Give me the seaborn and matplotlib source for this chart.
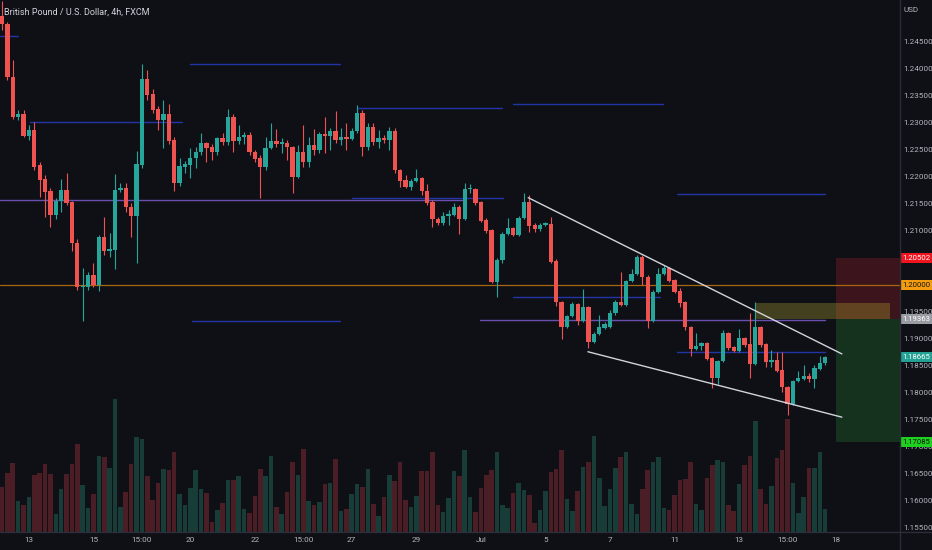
import numpy as np
import pandas as pd
import matplotlib
matplotlib.use("Agg")
import matplotlib.pyplot as plt
import matplotlib.transforms as mtransforms
from matplotlib.lines import Line2D
from matplotlib import font_manager
import seaborn as sns

# GBP/USD 4h candles
opens = [1.2497, 1.2482, 1.2384, 1.2310, 1.2316, 1.2275, 1.2286, 1.2221, 1.2196, 1.2173,
         1.2129, 1.2155, 1.2175, 1.2153, 1.2077, 1.1996, 1.1996, 1.2018, 1.2000, 1.2088,
         1.2062, 1.2064, 1.2175, 1.2179, 1.2144, 1.2127, 1.2221, 1.2381, 1.2353, 1.2325,
         1.2305, 1.2316, 1.2268, 1.2188, 1.2218, 1.2221, 1.2234, 1.2245, 1.2262, 1.2255,
         1.2245, 1.2271, 1.2264, 1.2310, 1.2266, 1.2273, 1.2277, 1.2245, 1.2234, 1.2218,
         1.2253, 1.2266, 1.2260, 1.2262, 1.2255, 1.2199, 1.2245, 1.2227, 1.2258, 1.2249,
         1.2279, 1.2275, 1.2285, 1.2268, 1.2273, 1.2269, 1.2285, 1.2318, 1.2255, 1.2292,
         1.2264, 1.2271, 1.2268, 1.2285, 1.2212, 1.2194, 1.2181, 1.2192, 1.2197, 1.2173,
         1.2153, 1.2121, 1.2114, 1.2127, 1.2129, 1.2144, 1.2121, 1.2177, 1.2177, 1.2153,
         1.2120, 1.2101, 1.2005, 1.2046, 1.2094, 1.2105, 1.2092, 1.2123, 1.2153, 1.2110,
         1.2103, 1.2110, 1.2112, 1.2044, 1.1968, 1.1922, 1.1942, 1.1964, 1.1933, 1.1959,
         1.1894, 1.1909, 1.1920, 1.1922, 1.1948, 1.1968, 1.1962, 1.2007, 1.2020, 1.2051,
         1.2014, 1.1933, 1.1987, 1.2020, 1.2031, 1.2009, 1.1988, 1.1968, 1.1922, 1.1881,
         1.1887, 1.1892, 1.1864, 1.1827, 1.1859, 1.1911, 1.1885, 1.1877, 1.1901, 1.1890,
         1.1853, 1.1922, 1.1890, 1.1857, 1.1861, 1.1842, 1.1811, 1.1779, 1.1822, 1.1825,
         1.1831, 1.1825, 1.1844, 1.1855]
highs = [1.2525, 1.2486, 1.2416, 1.2323, 1.2323, 1.2296, 1.2301, 1.2227, 1.2203, 1.2179,
         1.2160, 1.2196, 1.2207, 1.2155, 1.2084, 1.2031, 1.2024, 1.2040, 1.2092, 1.2125,
         1.2096, 1.2205, 1.2188, 1.2188, 1.2151, 1.2247, 1.2408, 1.2397, 1.2362, 1.2331,
         1.2342, 1.2334, 1.2273, 1.2234, 1.2229, 1.2253, 1.2255, 1.2281, 1.2264, 1.2260,
         1.2273, 1.2281, 1.2325, 1.2316, 1.2296, 1.2283, 1.2283, 1.2249, 1.2240, 1.2273,
         1.2299, 1.2288, 1.2271, 1.2268, 1.2257, 1.2258, 1.2296, 1.2273, 1.2288, 1.2283,
         1.2310, 1.2290, 1.2321, 1.2290, 1.2299, 1.2290, 1.2332, 1.2323, 1.2299, 1.2299,
         1.2286, 1.2277, 1.2292, 1.2290, 1.2214, 1.2203, 1.2196, 1.2214, 1.2199, 1.2186,
         1.2157, 1.2125, 1.2134, 1.2138, 1.2151, 1.2147, 1.2188, 1.2186, 1.2179, 1.2155,
         1.2123, 1.2103, 1.2049, 1.2097, 1.2123, 1.2107, 1.2127, 1.2170, 1.2166, 1.2114,
         1.2114, 1.2116, 1.2125, 1.2048, 1.1970, 1.1944, 1.1968, 1.1966, 1.1992, 1.1961,
         1.1913, 1.1944, 1.1931, 1.1953, 1.1972, 1.2024, 1.2009, 1.2029, 1.2055, 1.2055,
         1.2018, 1.1990, 1.2031, 1.2036, 1.2033, 1.2011, 1.1994, 1.1970, 1.1924, 1.1911,
         1.1894, 1.1894, 1.1866, 1.1861, 1.1916, 1.1913, 1.1887, 1.1918, 1.1903, 1.1948,
         1.1968, 1.1924, 1.1892, 1.1879, 1.1875, 1.1875, 1.1813, 1.1824, 1.1840, 1.1851,
         1.1837, 1.1851, 1.1868, 1.1868]
lows = [1.2471, 1.2379, 1.2307, 1.2305, 1.2273, 1.2268, 1.2212, 1.2162, 1.2125, 1.2107,
        1.2121, 1.2134, 1.2147, 1.2062, 1.1990, 1.1933, 1.1990, 1.1996, 1.1988, 1.2055,
        1.2051, 1.2029, 1.2171, 1.2134, 1.2088, 1.2040, 1.2216, 1.2342, 1.2318, 1.2286,
        1.2253, 1.2260, 1.2173, 1.2183, 1.2207, 1.2197, 1.2216, 1.2240, 1.2227, 1.2231,
        1.2240, 1.2258, 1.2258, 1.2245, 1.2260, 1.2260, 1.2240, 1.2227, 1.2160, 1.2212,
        1.2251, 1.2255, 1.2244, 1.2231, 1.2170, 1.2197, 1.2218, 1.2218, 1.2240, 1.2244,
        1.2244, 1.2249, 1.2262, 1.2258, 1.2249, 1.2268, 1.2281, 1.2238, 1.2249, 1.2258,
        1.2253, 1.2262, 1.2249, 1.2207, 1.2181, 1.2179, 1.2175, 1.2190, 1.2166, 1.2147,
        1.2107, 1.2110, 1.2110, 1.2110, 1.2127, 1.2094, 1.2120, 1.2170, 1.2147, 1.2116,
        1.2096, 1.2003, 1.1977, 1.2040, 1.2092, 1.2090, 1.2090, 1.2121, 1.2097, 1.2097,
        1.2099, 1.2109, 1.2040, 1.1961, 1.1899, 1.1920, 1.1940, 1.1925, 1.1931, 1.1883,
        1.1892, 1.1907, 1.1918, 1.1920, 1.1944, 1.1961, 1.1961, 1.2005, 1.2018, 1.2000,
        1.1920, 1.1931, 1.1985, 1.2018, 1.2005, 1.1985, 1.1959, 1.1916, 1.1868, 1.1879,
        1.1879, 1.1861, 1.1809, 1.1816, 1.1857, 1.1879, 1.1875, 1.1875, 1.1885, 1.1827,
        1.1851, 1.1885, 1.1848, 1.1848, 1.1838, 1.1801, 1.1759, 1.1778, 1.1820, 1.1824,
        1.1820, 1.1809, 1.1842, 1.1851]
closes = [1.2482, 1.2384, 1.2310, 1.2316, 1.2275, 1.2286, 1.2218, 1.2194, 1.2171, 1.2129,
          1.2155, 1.2175, 1.2151, 1.2077, 1.1996, 1.1998, 1.2018, 1.2000, 1.2088, 1.2062,
          1.2066, 1.2175, 1.2179, 1.2144, 1.2127, 1.2223, 1.2381, 1.2351, 1.2323, 1.2305,
          1.2316, 1.2266, 1.2188, 1.2220, 1.2223, 1.2234, 1.2245, 1.2262, 1.2253, 1.2245,
          1.2271, 1.2264, 1.2310, 1.2266, 1.2273, 1.2277, 1.2245, 1.2233, 1.2218, 1.2253,
          1.2266, 1.2260, 1.2264, 1.2255, 1.2199, 1.2245, 1.2227, 1.2258, 1.2249, 1.2279,
          1.2275, 1.2285, 1.2268, 1.2273, 1.2269, 1.2285, 1.2318, 1.2255, 1.2292, 1.2264,
          1.2271, 1.2268, 1.2285, 1.2212, 1.2192, 1.2181, 1.2192, 1.2197, 1.2173, 1.2151,
          1.2121, 1.2114, 1.2127, 1.2131, 1.2144, 1.2121, 1.2177, 1.2178, 1.2151, 1.2118,
          1.2099, 1.2005, 1.2046, 1.2094, 1.2105, 1.2092, 1.2123, 1.2153, 1.2109, 1.2103,
          1.2110, 1.2114, 1.2042, 1.1968, 1.1922, 1.1942, 1.1964, 1.1933, 1.1959, 1.1894,
          1.1909, 1.1922, 1.1927, 1.1948, 1.1968, 1.1962, 1.2007, 1.2020, 1.2051, 1.2014,
          1.1933, 1.1987, 1.2020, 1.2031, 1.2007, 1.1987, 1.1966, 1.1922, 1.1881, 1.1887,
          1.1892, 1.1862, 1.1827, 1.1859, 1.1911, 1.1883, 1.1877, 1.1901, 1.1888, 1.1853,
          1.1922, 1.1888, 1.1857, 1.1861, 1.1840, 1.1811, 1.1779, 1.1822, 1.1827, 1.1831,
          1.1825, 1.1846, 1.1855, 1.1866]
volumes = [133, 175, 205, 93, 80, 105, 170, 177, 203, 172,
           53, 129, 173, 203, 263, 141, 71, 113, 227, 225,
           191, 398, 73, 119, 203, 283, 277, 167, 95, 147,
           187, 185, 237, 113, 81, 131, 185, 129, 115, 30,
           65, 87, 155, 155, 168, 67, 57, 107, 187, 167,
           227, 75, 52, 119, 209, 170, 248, 93, 80, 88,
           143, 147, 219, 63, 69, 112, 142, 135, 188, 82,
           47, 103, 171, 153, 209, 95, 73, 107, 183, 181,
           237, 79, 60, 100, 183, 167, 245, 105, 60, 132,
           170, 185, 237, 80, 72, 115, 145, 125, 110, 27,
           65, 122, 180, 187, 245, 98, 62, 122, 193, 210,
           287, 160, 77, 127, 190, 225, 238, 83, 52, 128,
           185, 210, 225, 70, 65, 110, 155, 157, 210, 82,
           65, 160, 200, 215, 210, 80, 62, 143, 200, 227,
           330, 127, 83, 137, 222, 245, 337, 145, 55, 103,
           190, 190, 237, 67]

# time axis labels (bar index -> label)
tick_pos = [5, 17, 26, 35, 47, 56, 65, 77, 89, 101, 113, 125, 137, 146, 155]
tick_labels = ["13", "15", "15:00", "20", "22", "15:00", "27", "29", "Jul",
               "5", "7", "11", "13", "15:00", "18"]

# price scale ticks (1.200 and 1.205 are hidden under the tags)
price_ticks = [1.155, 1.160, 1.165, 1.170, 1.175, 1.180, 1.185, 1.190, 1.195,
               1.210, 1.215, 1.220, 1.225, 1.230, 1.235, 1.240, 1.245]

# drawn horizontal levels: (from bar, to bar, price, colour)
levels = [(-0.4, 3.0, 1.2460, "blue"), (5.2, 33.5, 1.2301, "blue"),
          (34.9, 62.8, 1.2408, "blue"), (66.0, 92.9, 1.2326, "blue"),
          (95.0, 122.9, 1.2334, "blue"), (-0.4, 86.0, 1.2156, "purple"),
          (65.0, 93.1, 1.2161, "blue"), (125.5, 153.0, 1.2167, "blue"),
          (95.0, 122.3, 1.1977, "blue"), (35.3, 62.8, 1.1933, "blue"),
          (88.8, 153.0, 1.1934, "purple"), (125.5, 153.0, 1.1876, "blue")]
round_level = 1.2000

# falling wedge trendlines
upper_x, upper_y = [97.8, 156.1], [1.2161, 1.1872]
lower_x, lower_y = [108.9, 156.1], [1.1876, 1.1755]

# short position tool
pos_start = 155.0
stop_price, entry_price, target_price = 1.20502, 1.19363, 1.17085
box_x, box_top = [140.0, 165.1], 1.1967

axis_tags = [(1.20502, "1.20502", "#f0141e", "white"),
             (1.20000, "1.20000", "#f59d0f", "#131313"),
             (1.19363, "1.19363", "#9a9ca4", "white"),
             (1.18665, "1.18665", "#22a194", "white"),
             (1.17085, "1.17085", "#1fd11f", "#131313")]

BG = "#0f1016"
GRID = "#2a2e39"
TXT = "#b2b5be"
UP, DOWN = "#26a69a", "#ef5350"
LEVEL_COL = {"blue": "#2334a6", "purple": "#6a4fb0"}

sns.set_theme(style="dark", rc={"axes.facecolor": BG, "figure.facecolor": BG})
names = {f.name for f in font_manager.fontManager.ttflist}
font = "Liberation Sans Narrow" if "Liberation Sans Narrow" in names else "Roboto"
plt.rcParams["font.family"] = [font, "DejaVu Sans"]
fsize = 6.3 if font == "Liberation Sans Narrow" else 5.9

o = np.array(opens)
h = np.array(highs)
l = np.array(lows)
c = np.array(closes)
idx = np.arange(len(o))
up = c >= o

fig = plt.figure(figsize=(9.32, 5.5), dpi=100)
ax = fig.add_axes([0, 18.3 / 550, 900 / 932, 531.7 / 550])
axv = ax.twinx()

# volume
df = pd.DataFrame({"bar": idx, "volume": volumes,
                   "dir": np.where(up, "up", "down")})
sns.barplot(data=df, x="bar", y="volume", hue="dir", native_scale=True,
            dodge=False, width=0.85, saturation=1, errorbar=None, legend=False,
            palette={"up": "#183d39", "down": "#4a1e24"}, linewidth=0, ax=axv)
axv.set_ylim(0, 1591)
axv.set_xlabel("")
axv.set_ylabel("")
axv.set_yticks([])
axv.set_facecolor(BG)

ax.set_zorder(axv.get_zorder() + 1)
ax.patch.set_visible(False)

# levels
for x0, x1, p, kind in levels:
    ax.plot([x0, x1], [p, p], color=LEVEL_COL[kind], lw=1.0, zorder=1)
ax.axhline(round_level, color="#a8660f", lw=0.9, zorder=1)

# position tool
xr = 166.9
ax.fill_between([pos_start, xr], entry_price, stop_price, color="#3b151b", lw=0, zorder=0.5)
ax.fill_between([pos_start, xr], target_price, entry_price, color="#14321e", lw=0, zorder=0.5)
ax.fill_between(box_x, entry_price, box_top, color=(0.78, 0.74, 0.2, 0.28), lw=0, zorder=0.6)

# candles
cols = np.where(up, UP, DOWN)
body = np.abs(c - o)
body = np.where(body < 0.00004, 0.00004, body)
ax.vlines(idx, l, h, colors=cols, lw=0.8, zorder=3)
ax.bar(idx, body, bottom=np.minimum(o, c), width=0.8, color=cols, lw=0, zorder=4)

# wedge
ax.plot(upper_x, upper_y, color="#d1d4dc", lw=1.0, zorder=5)
ax.plot(lower_x, lower_y, color="#d1d4dc", lw=1.0, zorder=5)

ax.set_xlim(-0.372, xr)
ax.set_ylim(1.15431, 1.25267)
for sp in list(ax.spines.values()) + list(axv.spines.values()):
    sp.set_visible(False)

ax.yaxis.tick_right()
ax.set_yticks(price_ticks)
ax.set_yticklabels([f"{v:.5f}" for v in price_ticks])
ax.tick_params(axis="y", length=0, pad=2.6, labelsize=fsize, labelcolor=TXT)
ax.set_xticks(tick_pos)
ax.set_xticklabels(tick_labels)
ax.tick_params(axis="x", length=0, pad=3.5, labelsize=fsize, labelcolor=TXT)
ax.grid(False)
axv.grid(False)

trans = mtransforms.blended_transform_factory(ax.transAxes, ax.transData)
for p, label, bg, fg in axis_tags:
    ax.text(1.0028, p, label, transform=trans, ha="left", va="center",
            fontsize=fsize - 0.3, color=fg, clip_on=False, zorder=10,
            bbox=dict(boxstyle="square,pad=0.26", fc=bg, ec="none"))

fig.add_artist(Line2D([900 / 932, 900 / 932], [0, 1], color=GRID, lw=1))
fig.add_artist(Line2D([0, 1], [18.3 / 550, 18.3 / 550], color=GRID, lw=1))

fig.text(4 / 932, 1 - 11.7 / 550, "British Pound / U.S. Dollar, 4h, FXCM",
         ha="left", va="center", fontsize=fsize + 0.6, color="#d1d4dc")
fig.text(904 / 932, 1 - 9.5 / 550, "USD", ha="left", va="center",
         fontsize=fsize, color=TXT)

fig.savefig("out.png", dpi=100, facecolor=BG)
